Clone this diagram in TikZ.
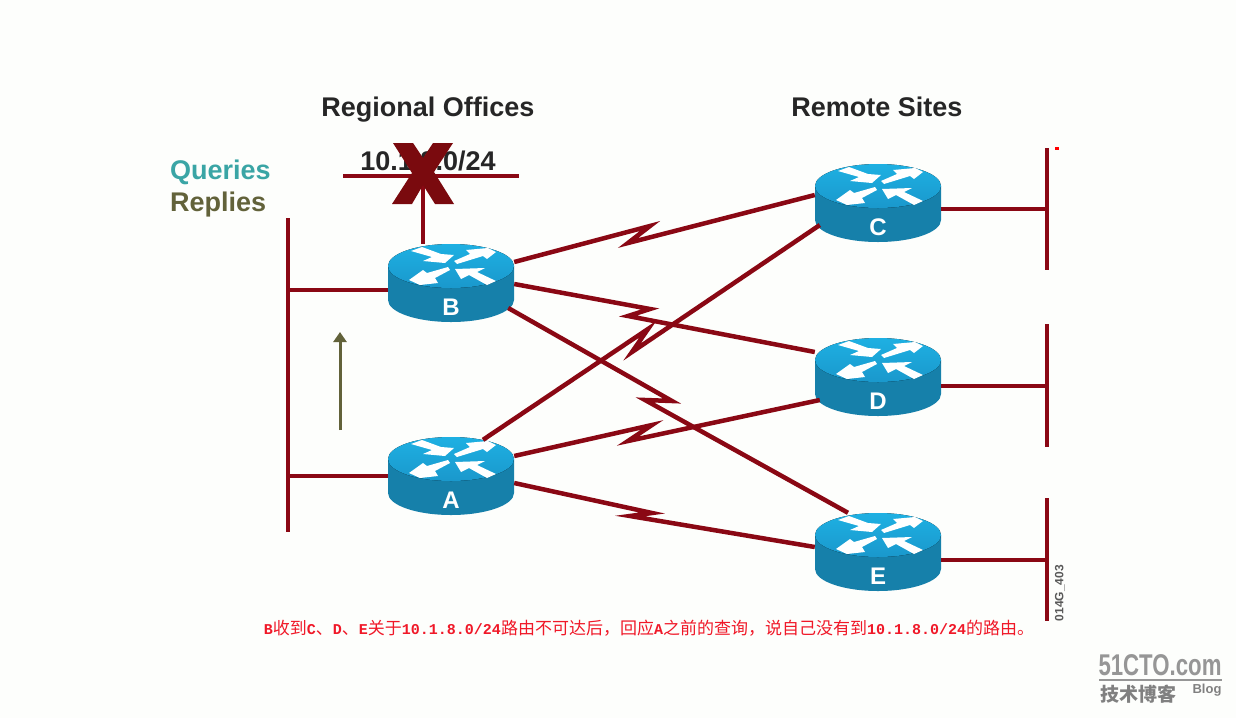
\documentclass[tikz,border=0pt]{standalone}
\usepackage{fontspec}
\setmainfont{Liberation Sans}
\newfontfamily\cjkfont{Noto Sans CJK SC}
\newfontfamily\monofont{Liberation Mono}
\usetikzlibrary{positioning,arrows.meta,calc}
\definecolor{PageWhite}{RGB}{253,254,252}
\definecolor{LinkRed}{RGB}{138,8,20}
\definecolor{CrossRed}{RGB}{122,10,14}
\definecolor{RouterTop}{RGB}{30,176,226}
\definecolor{RouterTopDark}{RGB}{26,152,204}
\definecolor{RouterSide}{RGB}{22,128,170}
\definecolor{QueryTeal}{RGB}{58,165,165}
\definecolor{ReplyOlive}{RGB}{98,98,58}
\definecolor{NoteRed}{RGB}{240,24,40}
\definecolor{MarkGrey}{RGB}{150,150,150}
\tikzset{
  routerbox/.style={minimum width=126pt, minimum height=78pt, inner sep=0pt},
  routerlabel/.style={font=\fontsize{24}{24}\selectfont\bfseries, white},
  lan/.style={LinkRed, line width=4.5pt},
  wan/.style={LinkRed, line width=4.5pt, miter limit=20},
  heading/.style={font=\fontsize{27}{27}\selectfont\bfseries, black!85, anchor=base},
  legend/.style={font=\fontsize{27}{27}\selectfont\bfseries, anchor=base west, inner sep=0pt},
}
\newcommand{\zh}[1]{{\cjkfont\mdseries\fontsize{17}{17}\selectfont #1}}
% router: name, position
\newcommand{\router}[2]{
  \node[routerbox] (#1) at (#2) {};
  \begin{scope}[shift={(#1.center)}]
    \fill[RouterSide] (-63,-17) -- (-63,17)
      arc[start angle=180, end angle=360, x radius=63pt, y radius=22pt]
      -- (63,-17) -- cycle;
    \fill[top color=RouterTop, bottom color=RouterTopDark] (0,-17) ellipse [x radius=63pt, y radius=22pt];
    \begin{scope}[shift={(0,-17)}]
      \fill[white] (3,-11) -- (-6,-3) -- (-28,-5) -- (-19,-9) -- (-40,-15) -- (-29,-19) -- (-10,-12) -- cycle;
      \fill[white] (45,-14) -- (36,-7) -- (32,-10) -- (6,-2) -- (3,-5) -- (19,-12) -- (15,-16) -- (37,-18) -- cycle;
      \fill[white] (-42,14) -- (-28,4) -- (-24,7) -- (-3,1) -- (-1,4) -- (-16,12) -- (-13,17) -- (-31,19) -- cycle;
      \fill[white] (4,3) -- (34,2) -- (26,6) -- (45,15) -- (36,19) -- (18,9) -- (10,13) -- cycle;
    \end{scope}
    \node[routerlabel] (#1label) at (0,24) {#1};
  \end{scope}
}

\begin{document}
\begin{tikzpicture}[x=1pt, y=-1pt]
  \fill[PageWhite] (0,0) rectangle (1236,718);

  \node[heading] (regional) at (428,116) {Regional Offices};
  \node[heading] (remote) at (877,116) {Remote Sites};
  \node[legend, QueryTeal] (queries) at (170,179) {Queries};
  \node[legend, ReplyOlive] (replies) at (170,211) {Replies};
  \node[heading] (subnet) at (428,170) {10.1.8.0/24};

  % left side LAN and failed stub
  \coordinate (lanTop) at (288,218);
  \coordinate (lanBottom) at (288,532);
  \coordinate (tapB) at (288,290);
  \coordinate (tapA) at (288,476);
  \coordinate (stubLeft) at (343,176);
  \coordinate (stubRight) at (519,176);
  \coordinate (stubMid) at (423,176);
  \draw[lan] (lanTop) -- (lanBottom);
  \draw[lan] (stubLeft) -- (stubRight);

  % remote LAN bars
  \coordinate (lanCtop) at (1047,148);
  \coordinate (lanCbot) at (1047,270);
  \coordinate (tapC) at (1047,209);
  \coordinate (lanDtop) at (1047,324);
  \coordinate (lanDbot) at (1047,447);
  \coordinate (tapD) at (1047,386);
  \coordinate (lanEtop) at (1047,498);
  \coordinate (lanEbot) at (1047,621);
  \coordinate (tapE) at (1047,560);
  \draw[lan] (lanCtop) -- (lanCbot);
  \draw[lan] (lanDtop) -- (lanDbot);
  \draw[lan] (lanEtop) -- (lanEbot);

  \router{B}{451,283}
  \router{A}{451,476}
  \router{C}{878,203}
  \router{D}{878,377}
  \router{E}{878,552}

  \draw[lan] ([yshift=-7pt]B.west) -- (tapB);
  \draw[lan] (A.west) -- (tapA);
  \draw[lan] (stubMid) -- ([xshift=-28pt]B.north);
  \draw[lan] ([yshift=-6pt]C.east) -- (tapC);
  \draw[lan] ([yshift=-9pt]D.east) -- (tapD);
  \draw[lan] ([yshift=-8pt]E.east) -- (tapE);

  % serial links with the bolt in the middle
  \draw[wan] ([yshift=21pt]B.east) -- (650,226) -- (628,243) -- ([yshift=8pt]C.west);
  \draw[wan] ([yshift=-1pt]B.east) -- (650,309) -- (628,316) -- ([yshift=25pt]D.west);
  \draw[wan] ([xshift=-6pt,yshift=-25pt]B.east) -- (672,401) -- (645,400) -- ([xshift=-30pt]E.north);
  \draw[wan] ([xshift=32pt,yshift=-3pt]A.north) -- (648,329) -- (632,352) -- ([xshift=5pt,yshift=-22pt]C.west);
  \draw[wan] ([yshift=20pt]A.east) -- (652,425) -- (628,441) -- ([xshift=5pt,yshift=-23pt]D.west);
  \draw[wan] ([yshift=-7pt]A.east) -- (652,513) -- (630,516) -- ([yshift=5pt]E.west);

  % the cross over the failed subnet
  \fill[CrossRed] (393,143) -- (413,143) -- (423,158) -- (433,143) -- (453,143) -- (434,172) -- (454,204)
    -- (435,204) -- (423,185) -- (412,204) -- (392,204) -- (412,173) -- cycle;

  \coordinate (replyTail) at (340,430);
  \coordinate (replyHead) at (340,332);
  \draw[ReplyOlive, line width=3pt, -{Triangle[length=10pt,width=13pt]}] (replyTail) -- (replyHead);

  \fill[red] (1055,147) rectangle (1059,150);
  \node[font=\fontsize{12}{12}\selectfont\bfseries, black!65, rotate=90] (code) at (1060,593) {014G\_403};

  \node[font=\monofont\fontsize{15}{15}\selectfont\bfseries, NoteRed, inner sep=0pt] (note) at (649,628)
    {B\zh{收到}C\zh{、}D\zh{、}E\zh{关于}10.1.8.0/24\zh{路由不可达后，回应}A\zh{之前的查询，说自己没有到}10.1.8.0/24\zh{的路由。}};

  \node[font=\fontsize{30}{30}\selectfont\bfseries, MarkGrey, xscale=.74] (site) at (1160,665) {51CTO.com};
  \coordinate (ruleLeft) at (1099,680);
  \coordinate (ruleRight) at (1222,680);
  \draw[MarkGrey, line width=2pt] (ruleLeft) -- (ruleRight);
  \node[font=\cjkfont\fontsize{19}{19}\selectfont\bfseries, MarkGrey!85!black] (blogzh) at (1138,694) {技术博客};
  \node[font=\fontsize{13}{13}\selectfont\bfseries, MarkGrey!85!black] (blog) at (1207,690) {Blog};
\end{tikzpicture}
\end{document}
